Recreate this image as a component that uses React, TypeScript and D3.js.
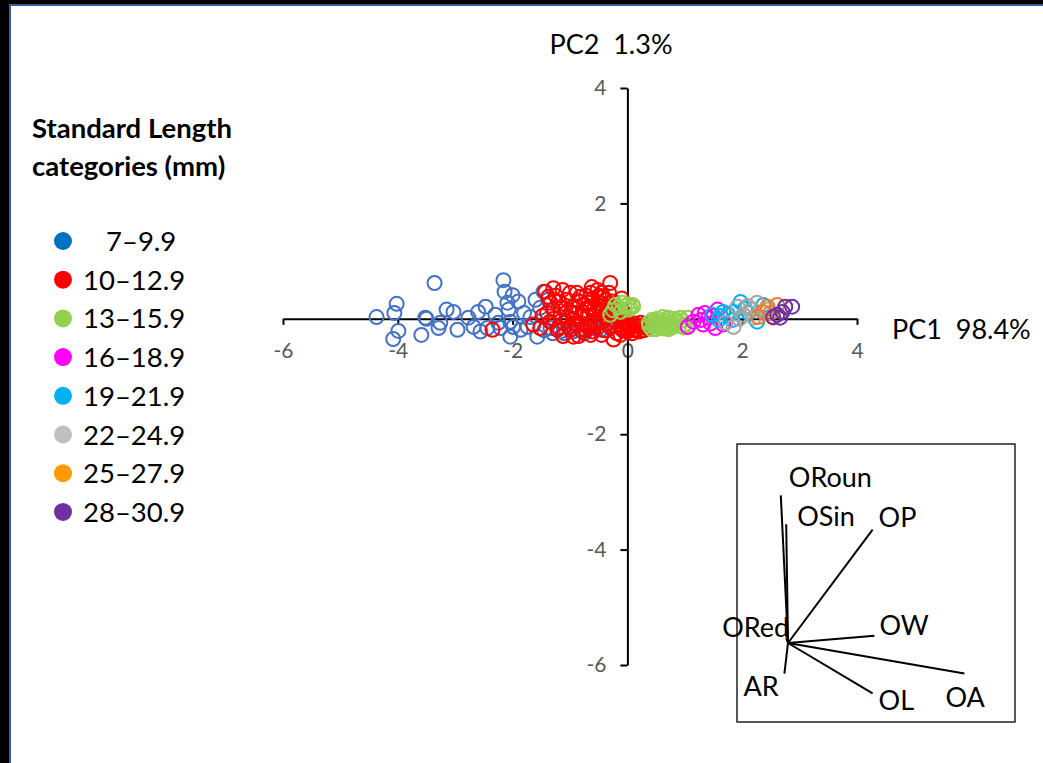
import React, { useRef, useEffect } from "react";
import { select, scaleLinear, axisBottom, axisLeft } from "d3";

const FONT = "Lato, 'Open Sans', sans-serif";

// legend
const categories = ["7–9.9", "10–12.9", "13–15.9", "16–18.9", "19–21.9", "22–24.9", "25–27.9", "28–30.9"];
const legendColors = ["#0070C0", "#FF0000", "#92D050", "#FF00FF", "#00B0F0", "#BFBFBF", "#FF9900", "#7030A0"];
const markerColors = ["#4472C4", "#FF0000", "#92D050", "#FF00FF", "#00B0F0", "#A5A5A5", "#ED7D31", "#7030A0"];

const xTicks = [-6, -4, -2, 0, 2, 4];
const yTicks = [-6, -4, -2, 2, 4];

// PC1, PC2 scores
const sl7 = [
  [-4.37, 0.03], [-4.02, 0.26], [-4.06, 0.10], [-3.99, -0.21], [-4.08, -0.35], [-3.36, 0.62], [-3.59, -0.28],
  [-3.52, 0.02], [-3.50, 0.0], [-3.26, -0.07], [-3.29, -0.16], [-3.15, 0.16], [-3.03, 0.12], [-2.96, -0.19],
  [-2.77, 0.02], [-2.68, -0.14], [-2.60, 0.12], [-2.47, 0.21], [-2.56, -0.22], [-2.30, 0.07], [-2.25, -0.07],
  [-2.16, 0.67], [-2.14, 0.47], [-2.09, 0.28], [-2.07, 0.16], [-2.00, 0.41], [-2.04, -0.05], [-1.99, -0.14],
  [-1.86, -0.19], [-1.74, -0.14], [-1.69, 0.03], [-1.60, 0.33], [-1.52, 0.19], [-1.46, 0.47], [-1.38, 0.33],
  [-1.34, -0.16], [-1.17, -0.22], [-1.05, 0.03], [-0.82, -0.19], [-0.59, -0.16], [-0.47, -0.19], [-2.21, -0.16],
  [-2.04, -0.31], [-1.57, -0.31], [-2.44, -0.16], [-1.45, -0.20], [-1.30, -0.25], [-1.10, -0.25],
  [-0.95, -0.22], [-0.75, -0.25], [-0.35, -0.20], [-0.10, -0.18], [-1.80, 0.10], [-1.90, 0.30]
];
const sl10 = [
  [-1.43, 0.47], [-1.29, 0.53], [-1.13, 0.50], [-1.34, 0.28], [-1.29, 0.16], [-1.05, 0.33], [-0.94, 0.21],
  [-0.82, 0.38], [-0.64, 0.45], [-0.52, 0.50], [-0.30, 0.62], [-0.38, 0.33], [-0.59, 0.16], [-0.82, 0.03],
  [-1.11, -0.07], [-1.17, 0.03], [-0.99, -0.19], [-0.70, -0.14], [-0.47, -0.07], [-0.24, -0.02], [-0.24, -0.36],
  [-0.12, -0.14], [0.0, -0.19], [0.10, -0.19], [-0.35, 0.10], [-0.50, 0.28], [-0.87, -0.10], [-1.22, -0.19],
  [-1.52, -0.16], [-0.94, -0.31], [-0.64, -0.28], [-0.42, 0.38], [-0.35, 0.21], [0.10, -0.14], [0.23, -0.07],
  [0.35, -0.16], [-0.12, -0.10], [0.0, -0.22], [-2.35, -0.19], [-1.64, -0.10], [-1.40, 0.10], [-1.25, 0.40],
  [-1.00, 0.45], [-0.90, 0.10], [-0.75, 0.25], [-0.70, 0.05], [-0.60, 0.35], [-0.45, 0.15], [-0.55, -0.05],
  [-0.40, -0.20], [-0.30, 0.05], [-0.20, 0.15], [-0.15, 0.0], [-0.78, -0.22], [-1.05, -0.05], [-1.15, 0.20],
  [-0.85, 0.30], [-0.65, -0.10], [-0.50, 0.40], [-0.25, 0.30], [-0.05, -0.05], [0.05, -0.10], [0.15, -0.20],
  [0.25, -0.15], [0.30, -0.10], [0.40, -0.12], [-0.30, -0.15], [-0.18, -0.25], [-0.08, -0.20], [0.20, -0.22],
  [-0.95, 0.0], [-1.35, -0.05], [-1.48, 0.05], [-1.20, -0.15], [-0.72, 0.40], [-0.62, 0.55], [-1.38, 0.38],
  [-0.88, 0.45], [-0.78, 0.12], [-0.68, 0.28], [-0.58, 0.05], [-0.48, 0.22], [-0.40, 0.05], [-0.32, 0.45],
  [-0.28, 0.22], [-0.18, 0.05], [-0.10, 0.35], [-0.05, 0.10], [-0.98, 0.12], [-1.08, 0.18], [-1.20, 0.30],
  [-1.28, 0.0], [-0.92, -0.08], [-0.80, -0.08], [-0.72, -0.20], [-0.60, -0.22], [-0.52, -0.15], [-0.45, -0.28],
  [-0.35, -0.08], [-0.22, -0.12], [-0.12, -0.28], [0.08, -0.25], [0.18, -0.12], [0.28, -0.20], [0.12, -0.08],
  [-1.02, -0.15], [-1.12, -0.30], [-0.85, -0.30], [-0.55, 0.10], [-0.65, 0.20], [-0.45, 0.45]
];
const sl13 = [
  [-0.30, 0.07], [-0.21, 0.24], [-0.09, 0.28], [0.09, 0.24], [-0.12, 0.12], [0.02, 0.16], [0.10, 0.21],
  [-0.25, 0.15], [0.0, 0.25], [0.37, -0.07], [0.49, -0.10], [0.61, -0.05], [0.71, 0.02], [0.70, -0.14],
  [0.84, -0.07], [1.05, 0.02], [1.06, -0.14], [0.57, -0.16], [0.43, -0.02], [0.45, -0.12], [0.55, -0.05],
  [0.65, -0.12], [0.75, -0.08], [0.80, 0.0], [0.90, -0.12], [0.95, -0.03], [1.00, -0.10], [0.62, 0.03],
  [0.38, -0.12], [0.50, -0.18], [0.72, -0.18], [0.42, -0.18], [0.52, 0.0], [0.58, -0.10], [0.68, -0.03],
  [0.78, -0.15], [0.86, -0.02], [0.92, 0.02], [0.98, -0.15], [0.47, -0.05], [0.64, -0.17], [0.82, -0.11],
  [-0.15, 0.20], [0.05, 0.20], [-0.05, 0.22]
];
const sl16 = [
  [1.05, -0.14], [1.24, 0.07], [1.32, -0.10], [1.41, 0.02], [1.57, 0.16], [1.53, -0.16], [1.15, -0.05],
  [1.67, -0.10], [1.35, 0.10], [1.45, -0.08], [1.28, -0.02], [1.50, 0.05]
];
const sl19 = [
  [1.48, 0.07], [1.59, -0.02], [1.67, 0.12], [1.83, -0.02], [1.97, 0.29], [2.11, 0.10], [2.26, -0.05],
  [2.37, 0.24], [1.85, 0.12], [1.62, 0.05], [1.75, 0.08], [2.05, 0.18]
];
const sl22 = [
  [1.71, -0.07], [1.85, -0.14], [1.92, 0.21], [2.02, 0.07], [2.18, 0.16], [2.26, 0.28], [2.44, 0.16],
  [2.20, 0.02], [1.95, 0.0], [2.10, 0.22]
];
const sl25 = [[2.44, 0.21], [2.49, 0.10], [2.61, 0.24], [2.28, 0.03], [2.54, 0.02], [2.36, 0.12]];
const sl28 = [[2.61, 0.07], [2.75, 0.21], [2.87, 0.21], [2.70, 0.12], [2.54, 0.03], [2.66, 0.02]];
const series = [sl7, sl10, sl13, sl16, sl19, sl22, sl25, sl28];

// loadings for the inset biplot
const loadingNames = ["ORoun", "OSin", "OP", "OW", "OA", "OL", "AR", "ORed"];
const loadingPC1 = [-0.04, -0.01, 0.47, 0.48, 0.98, 0.47, -0.02, -0.01];
const loadingPC2 = [0.82, 0.66, 0.63, 0.04, -0.17, -0.28, -0.17, 0.03];
// label offsets from the arrow tip (px)
const labelOffset = {
  ORoun: [8, -8], OSin: [11, 2], OP: [6, -3], OW: [5, -1],
  OA: [-19, 33], OL: [6, 17], AR: [-41, 22], ORed: [-64, -1]
};

function App() {
  const svgRef = useRef(null);

  useEffect(() => {
    const svg = select(svgRef.current);
    svg.selectAll("*").remove();

    // frame
    svg.append("rect").attr("width", 1043).attr("height", 763).attr("fill", "#000");
    svg.append("rect").attr("x", 10).attr("y", 5).attr("width", 1043).attr("height", 763)
      .attr("fill", "#fff").attr("stroke", "#3B5E9E").attr("stroke-width", 2);

    const xscale = scaleLinear().domain([-6, 4]).range([283, 857]);
    const yscale = scaleLinear().domain([-6, 4]).range([665, 88]);

    // axes
    const xaxis = axisBottom(xscale).tickValues(xTicks).tickSize(6).tickSizeOuter(0).tickPadding(18)
      .tickFormat(d => String(d));
    const gx = svg.append("g").attr("transform", `translate(0,${yscale(0)})`).call(xaxis);
    const yaxis = axisLeft(yscale).tickValues(yTicks).tickSize(7).tickSizeOuter(0).tickPadding(14)
      .tickFormat(d => String(d));
    const gy = svg.append("g").attr("transform", `translate(${xscale(0)},0)`).call(yaxis);
    [gx, gy].forEach(g => {
      g.selectAll("text").attr("fill", "#595959").style("font-family", FONT).style("font-size", "21px");
      g.selectAll("line").attr("stroke", "#000").attr("stroke-width", 2);
      g.select(".domain").attr("stroke", "#000").attr("stroke-width", 2);
    });

    // scatter
    series.forEach((pts, i) => {
      svg.append("g").selectAll("circle").data(pts).join("circle")
        .attr("cx", d => xscale(d[0]))
        .attr("cy", d => yscale(d[1]))
        .attr("r", 7)
        .attr("fill", "none")
        .attr("stroke", markerColors[i])
        .attr("stroke-width", 2);
    });

    // axis titles
    svg.append("text").attr("x", 611).attr("y", 54).attr("text-anchor", "middle")
      .style("font-family", FONT).style("font-size", "27px").attr("fill", "#000")
      .attr("xml:space", "preserve").text("PC2  1.3%");
    svg.append("text").attr("x", 892).attr("y", 339)
      .style("font-family", FONT).style("font-size", "27px").attr("fill", "#000")
      .attr("xml:space", "preserve").text("PC1  98.4%");

    // legend
    const lg = svg.append("g");
    ["Standard Length", "categories (mm)"].forEach((t, i) => {
      lg.append("text").attr("x", 32).attr("y", 138 + i * 38)
        .style("font-family", FONT).style("font-size", "27.5px").style("font-weight", "bold")
        .text(t);
    });
    categories.forEach((c, i) => {
      const cy = 241 + i * 38.7;
      lg.append("circle").attr("cx", 63).attr("cy", cy).attr("r", 9).attr("fill", legendColors[i]);
      lg.append("text").attr("x", i === 0 ? 106 : 83).attr("y", cy + 10)
        .style("font-family", FONT).style("font-size", "27.5px").text(c);
    });

    // inset biplot
    const ix = scaleLinear().domain([0, 1]).range([788, 968]);
    const iy = scaleLinear().domain([0, 1]).range([643, 463]);
    const ins = svg.append("g");
    ins.append("rect").attr("x", 737).attr("y", 444).attr("width", 278).attr("height", 278)
      .attr("fill", "none").attr("stroke", "#222").attr("stroke-width", 1.5);
    loadingNames.forEach((n, i) => {
      const off = labelOffset[n];
      ins.append("text").attr("x", ix(loadingPC1[i]) + off[0]).attr("y", iy(loadingPC2[i]) + off[1])
        .style("font-family", FONT).style("font-size", "27px").text(n);
    });
    loadingNames.forEach((n, i) => {
      ins.append("line").attr("x1", ix(0)).attr("y1", iy(0))
        .attr("x2", ix(loadingPC1[i])).attr("y2", iy(loadingPC2[i]))
        .attr("stroke", "#000").attr("stroke-width", 2);
    });
  }, []);

  return (
    <div style={{ position: "fixed", left: 0, top: 0 }}>
      <svg ref={svgRef} width={1043} height={763} style={{ display: "block" }}></svg>
    </div>
  );
}

export default App;
